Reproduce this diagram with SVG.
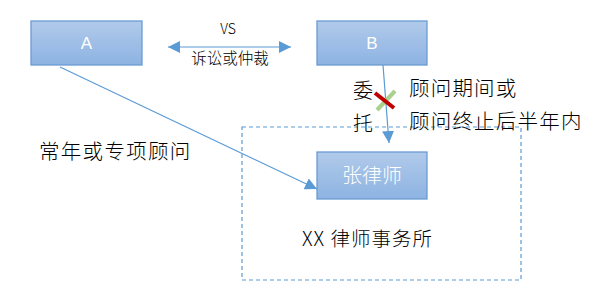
<svg xmlns="http://www.w3.org/2000/svg" width="614" height="296" viewBox="0 0 614 296">
<style>
.box{fill:url(#g);stroke:#6A9BD3;stroke-width:1.3}
.lbl{font-family:"Liberation Sans","Noto Sans CJK SC",sans-serif;fill:#fff;text-anchor:middle}
.t{font-family:"Noto Sans CJK SC","Liberation Sans",sans-serif;fill:#000;font-weight:300}
.c{stroke:#5B9BD5;stroke-width:1.2;fill:none}
</style>
<defs>
<linearGradient id="g" x1="0" y1="0" x2="0" y2="1">
<stop offset="0" stop-color="#B1CAEA"/>
<stop offset="1" stop-color="#8DB3E2"/>
</linearGradient>
<marker id="ah" viewBox="0 0 12 12" refX="12" refY="6" markerWidth="12" markerHeight="12" markerUnits="userSpaceOnUse" orient="auto-start-reverse">
<path d="M0,0 L12,6 L0,12 z" fill="#5B9BD5"/>
</marker>
</defs>
<rect x="0" y="0" width="614" height="296" fill="#fff"/>
<g id="firm">
<rect x="242" y="127" width="279" height="153" fill="none" stroke="#5B9BD5" stroke-width="1.2" stroke-dasharray="4,3"/>
<text class="t" x="302" y="246" font-size="19.5" letter-spacing="1">XX 律师事务所</text>
</g>
<g id="A">
<rect class="box" x="31" y="21" width="111" height="44"/>
<text class="lbl" x="86.5" y="49" font-size="17">A</text>
</g>
<g id="B">
<rect class="box" x="317" y="21" width="110" height="44"/>
<text class="lbl" x="372" y="49" font-size="17">B</text>
</g>
<g id="lawyer">
<rect class="box" x="317" y="152" width="110" height="47"/>
<text class="lbl" x="372" y="183" font-size="20" font-weight="300" font-family="Noto Sans CJK SC,sans-serif">张律师</text>
</g>
<g id="connectors">
<line class="c" x1="168" y1="47" x2="291" y2="47" marker-start="url(#ah)" marker-end="url(#ah)"/>
<line class="c" x1="60" y1="67" x2="317" y2="189" marker-end="url(#ah)"/>
<line class="c" x1="383" y1="65" x2="389" y2="143" marker-end="url(#ah)"/>
<line x1="377" y1="110" x2="395" y2="91" stroke="#A9D18E" stroke-width="4"/>
<line x1="375" y1="93" x2="394" y2="108" stroke="#C00000" stroke-width="4"/>
</g>
<g id="labels">
<text class="t" x="228" y="34" font-size="14" text-anchor="middle" font-family="Liberation Sans,sans-serif" font-weight="400">VS</text>
<text class="t" x="230" y="64" font-size="15.5" text-anchor="middle">诉讼或仲裁</text>
<text class="t" x="39" y="159" font-size="20.5" letter-spacing="1.3">常年或专项顾问</text>
<text class="t" x="353" y="98" font-size="20">委</text>
<text class="t" x="353" y="131" font-size="20">托</text>
<text class="t" x="409" y="96" font-size="20.5" letter-spacing="1.2">顾问期间或</text>
<text class="t" x="409" y="129" font-size="20.5" letter-spacing="1.2">顾问终止后半年内</text>
</g>
</svg>
